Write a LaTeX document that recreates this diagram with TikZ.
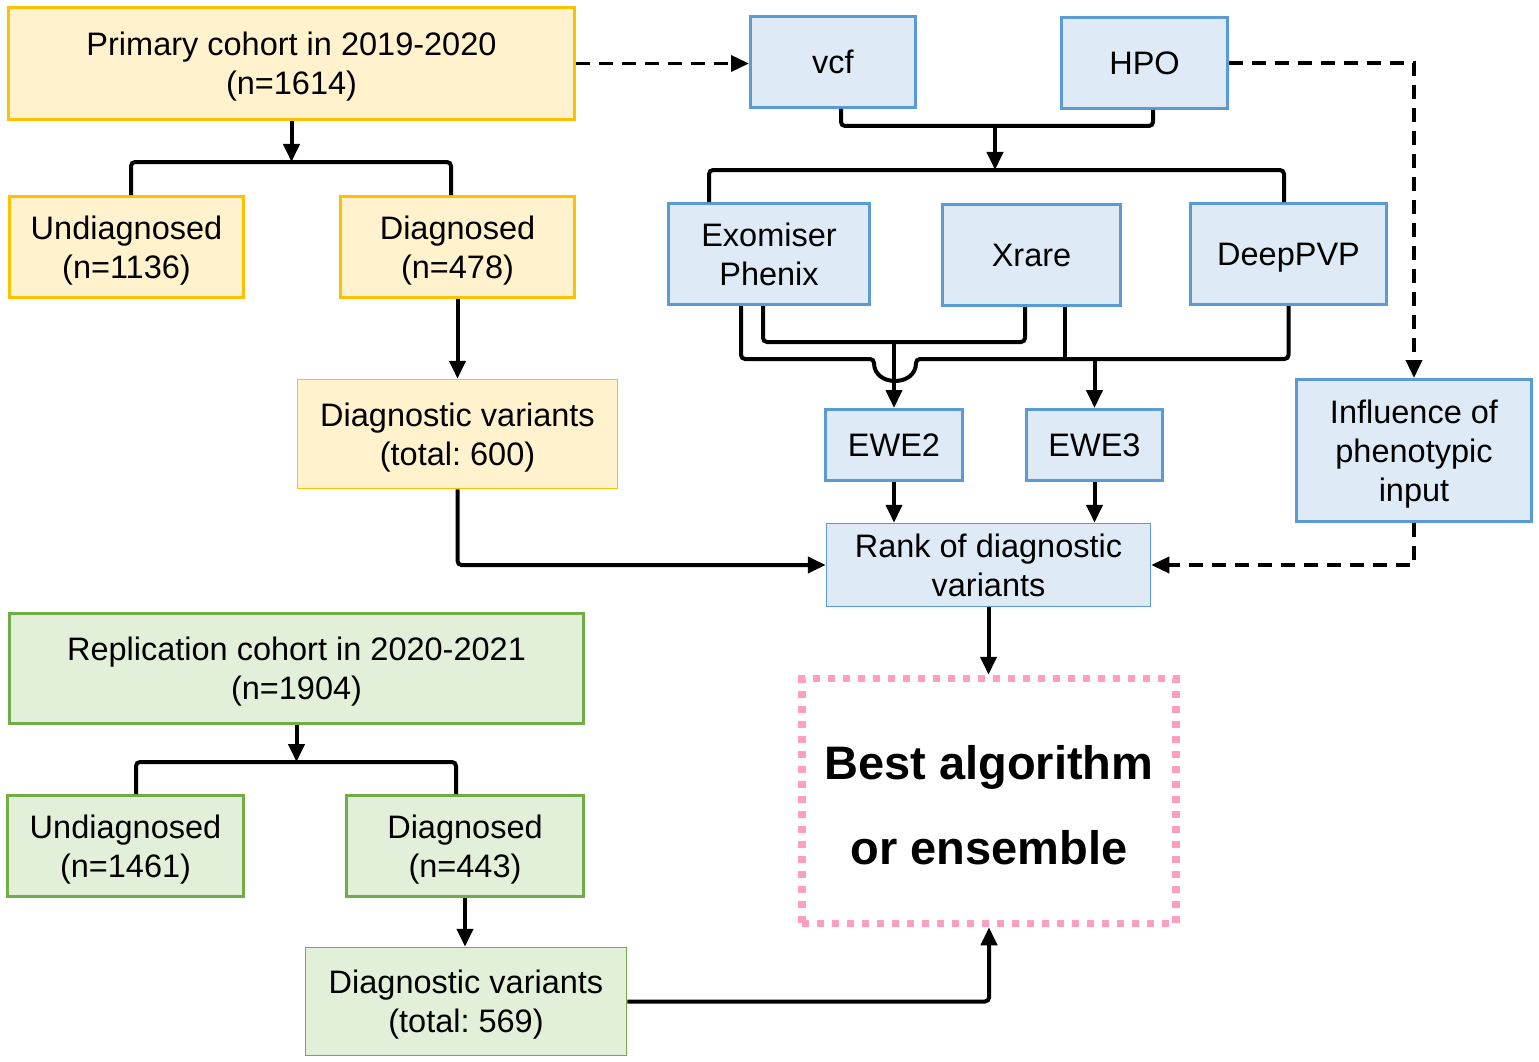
\documentclass[tikz,border=0pt]{standalone}
\usepackage{fontspec}
\setmainfont{Liberation Sans}
\usetikzlibrary{arrows.meta}
\frenchspacing
\definecolor{yfill}{HTML}{FFF2CC}
\definecolor{yline}{HTML}{FFC000}
\definecolor{bfill}{HTML}{DEEBF7}
\definecolor{bline}{HTML}{5B9BD5}
\definecolor{gfill}{HTML}{E2F0D9}
\definecolor{gline}{HTML}{70AD47}
\definecolor{pinkdot}{HTML}{FF9EBE}
\newcommand\btxt[1]{\raisebox{-4pt}[\height][\depth]{\begin{tabular}{@{}c@{}}#1\end{tabular}}}
\tikzset{
  boxbase/.style={draw, line width=3pt, inner sep=0pt, align=center,
    font=\fontsize{32.5}{39}\selectfont},
  ybox/.style={boxbase, fill=yfill, draw=yline},
  bbox/.style={boxbase, fill=bfill, draw=bline},
  gbox/.style={boxbase, fill=gfill, draw=gline},
  thinb/.style={line width=1.5pt},
  conn/.style={line width=4pt, draw=black, rounded corners=4pt},
  arr/.style={conn, -{Triangle[length=18pt,width=16pt]}},
  darr/.style={line width=3.5pt, draw=black, dash pattern=on 14pt off 9pt, -{Triangle[length=18pt,width=16pt]}},
}
\begin{document}
\begin{tikzpicture}[x=1pt,y=-1pt]
\useasboundingbox (0,0) rectangle (1539,1062);
% yellow
\node[ybox, minimum width=566pt, minimum height=112pt] (p) at (291.5,63.5) {\btxt{Primary cohort in 2019-2020\\(n=1614)}};
\node[ybox, minimum width=234pt, minimum height=101pt] (u1) at (126.5,247) {\btxt{Undiagnosed\\(n=1136)}};
\node[ybox, minimum width=234pt, minimum height=101pt] (d1) at (457.5,247) {\btxt{Diagnosed\\(n=478)}};
\node[ybox, thinb, minimum width=320pt, minimum height=109pt] (v1) at (457.5,434) {\btxt{Diagnostic variants\\(total: 600)}};
% blue
\node[bbox, minimum width=165pt, minimum height=91pt] (vcf) at (833,62) {\btxt{vcf}};
\node[bbox, minimum width=166pt, minimum height=91pt] (hpo) at (1144.5,63) {\btxt{HPO}};
\node[bbox, minimum width=201pt, minimum height=101pt] (exo) at (769,254) {\btxt{Exomiser\\Phenix}};
\node[bbox, minimum width=178pt, minimum height=101pt] (xr) at (1031.5,255) {\btxt{Xrare}};
\node[bbox, minimum width=196pt, minimum height=101pt] (dp) at (1288.5,254) {\btxt{DeepPVP}};
\node[bbox, minimum width=137pt, minimum height=71pt] (e2) at (894,445) {\btxt{EWE2}};
\node[bbox, minimum width=136pt, minimum height=71pt] (e3) at (1094.5,445) {\btxt{EWE3}};
\node[bbox, minimum width=235pt, minimum height=142pt] (inf) at (1414,450.5) {\btxt{Influence of\\phenotypic\\input}};
\node[bbox, thinb, minimum width=324pt, minimum height=83pt] (rank) at (988.5,565) {\btxt{Rank of diagnostic\\variants}};
% green
\node[gbox, minimum width=574pt, minimum height=110pt] (r) at (296.5,668.5) {\btxt{Replication cohort in 2020-2021\\(n=1904)}};
\node[gbox, minimum width=236pt, minimum height=101pt] (u2) at (125.5,846) {\btxt{Undiagnosed\\(n=1461)}};
\node[gbox, minimum width=237pt, minimum height=101pt] (d2) at (465,846) {\btxt{Diagnosed\\(n=443)}};
\node[gbox, thinb, minimum width=321pt, minimum height=108pt] (v2) at (466,1001.5) {\btxt{Diagnostic variants\\(total: 569)}};
% best
\node[draw=pinkdot, line width=7.5pt, dash pattern=on 7pt off 8pt, minimum width=374pt, minimum height=245pt, inner sep=0pt, align=center,
  font=\fontsize{47}{85}\selectfont\bfseries] (best) at (989,801) {\raisebox{-4pt}[\height][\depth]{\begin{tabular}{@{}c@{}}Best algorithm\\or ensemble\end{tabular}}};

% junction coordinates
\coordinate (br1) at (291.5,162);
\coordinate (j1) at (995,126);
\coordinate (br2) at (995,170);
\coordinate (j2) at (894,342);
\coordinate (h1) at (874,359);
\coordinate (h2) at (916,359);
\coordinate (jx) at (1065,359);
\coordinate (j3) at (1094.5,359);
\coordinate (br3) at (296.5,762);

% primary cohort
\draw[arr] (p.south) -- (br1);
\draw[conn] ([xshift=4.5pt]u1.north) |- (br1) -| ([xshift=-6.5pt]d1.north);
\draw[arr] (d1.south) -- (v1.north);
\draw[arr] (v1.south) |- (rank.west);
\draw[darr] (p.east) -- (p.east -| vcf.west);

% vcf / hpo
\draw[conn] ([xshift=8pt]vcf.south) |- (j1) -| ([xshift=8.5pt]hpo.south);
\draw[arr] (j1) -- (br2);
\draw[conn] ([xshift=-60pt]exo.north) |- (br2) -| ([xshift=-4.5pt]dp.north);
\draw[darr] (hpo.east) -| (inf.north);
\draw[darr] (inf.south) |- (rank.east);

% to EWE
\draw[conn] ([xshift=-6pt]exo.south) |- (j2) -| ([xshift=-6.5pt]xr.south);
\draw[arr] (j2) -- (e2.north);
\draw[conn] ([xshift=-28pt]exo.south) |- (h1) .. controls (874,387) and (916,387) .. (h2) -| (dp.south);
\draw[conn] ([xshift=33.5pt]xr.south) -- (jx);
\draw[arr] (j3) -- (e3.north);
\draw[arr] (e2.south) -- (e2.south |- rank.north);
\draw[arr] (e3.south) -- (e3.south |- rank.north);
\draw[arr] (rank.south) -- (rank.south |- best.north);

% replication
\draw[arr] (r.south) -- (br3);
\draw[conn] ([xshift=10.5pt]u2.north) |- (br3) -| ([xshift=-9pt]d2.north);
\draw[arr] (d2.south) -- (d2.south |- v2.north);
\draw[arr] (v2.east) -| (best.south);
\end{tikzpicture}
\end{document}
